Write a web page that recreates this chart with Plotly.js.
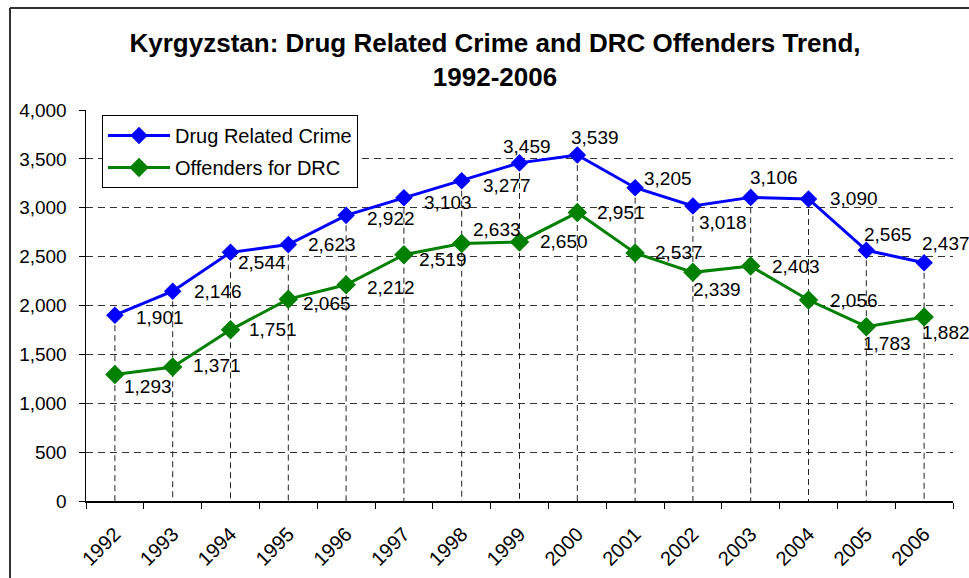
<!DOCTYPE html>
<html>
<head>
<meta charset="utf-8">
<script src="https://cdn.plot.ly/plotly-3.0.1.min.js"></script>
<style>
  html, body { margin: 0; padding: 0; background: #fff; overflow: hidden; }
  #chart { width: 969px; height: 578px; }
</style>
</head>
<body>
<div id="chart"></div>
<script>
// ---- Data ----
const years = ['1992','1993','1994','1995','1996','1997','1998','1999','2000','2001','2002','2003','2004','2005','2006'];
const drugRelatedCrime = [1901, 2146, 2544, 2623, 2922, 3103, 3277, 3459, 3539, 3205, 3018, 3106, 3090, 2565, 2437];
const offendersForDRC = [1293, 1371, 1751, 2065, 2212, 2519, 2633, 2650, 2951, 2537, 2339, 2403, 2056, 1783, 1882];
const yTickValues = [0, 500, 1000, 1500, 2000, 2500, 3000, 3500, 4000];

// ---- Label placement (pixel offsets, style only) ----
const crimeLabelShift = [[45,2],[45,0],[31,10],[44,0],[45,3],[44,5],[45,5],[7,-16],[18,-18],[33,-9],[30,17],[23,-20],[45,0],[22,-16],[22,-19]];
const offenderLabelShift = [[33,12],[44,-1],[42,0],[39,4],[45,3],[39,5],[35,-14],[44,0],[44,0],[44,-1],[24,17],[45,0],[45,0],[21,17],[22,15]];

const FONT = 'Liberation Sans, Arial, sans-serif';

// Drop lines from the higher point of each category down to the axis
const dropX = [], dropY = [];
years.forEach((yr, i) => {
  dropX.push(yr, yr, null);
  dropY.push(Math.max(drugRelatedCrime[i], offendersForDRC[i]), 0, null);
});

const traces = [
  {
    x: dropX, y: dropY, type: 'scatter', mode: 'lines',
    line: {color: '#222', width: 1, dash: '6px,4px'},
    hoverinfo: 'skip', showlegend: false
  },
  {
    x: years, y: drugRelatedCrime, type: 'scatter', mode: 'lines+markers',
    name: 'Drug Related Crime', legendgroup: 'a',
    line: {color: '#0000FF', width: 3},
    marker: {symbol: 'diamond', size: 13.5, color: '#0000FF'},
    cliponaxis: false
  },
  {
    x: years, y: offendersForDRC, type: 'scatter', mode: 'lines+markers',
    name: 'Offenders for DRC', legendgroup: 'b',
    line: {color: '#008000', width: 3},
    marker: {symbol: 'diamond', size: 15, color: '#008000'},
    cliponaxis: false
  }
];

const annotations = [];
const fmt = v => String(v).replace(/\B(?=(\d{3})+(?!\d))/g, ',');
years.forEach((yr, i) => {
  annotations.push({
    x: i, y: drugRelatedCrime[i], xref: 'x', yref: 'y', text: fmt(drugRelatedCrime[i]),
    showarrow: false, xshift: crimeLabelShift[i][0], yshift: -crimeLabelShift[i][1],
    xanchor: 'center', yanchor: 'middle',
    font: {family: FONT, size: 19, color: '#000'}
  });
  annotations.push({
    x: i, y: offendersForDRC[i], xref: 'x', yref: 'y', text: fmt(offendersForDRC[i]),
    showarrow: false, xshift: offenderLabelShift[i][0], yshift: -offenderLabelShift[i][1],
    xanchor: 'center', yanchor: 'middle',
    font: {family: FONT, size: 19, color: '#000'}
  });
});

// plot area geometry in px
const W = 969, H = 578, L = 86, R = 16, T = 110, B = 77;
const pw = W - L - R, ph = H - T - B;
const px2x = p => (p - L) / pw;
const px2y = p => (H - B - p) / ph;

const layout = {
  width: W, height: H,
  margin: {l: L, r: R, t: T, b: B, pad: 0},
  paper_bgcolor: '#fff', plot_bgcolor: '#fff',
  font: {family: FONT, size: 18, color: '#000'},
  title: {
    text: '<b>Kyrgyzstan: Drug Related Crime and DRC Offenders Trend,<br>1992-2006</b>',
    font: {family: FONT, size: 26, color: '#000'},
    x: 495 / W, xref: 'container', xanchor: 'center',
    y: 1 - 52 / H, yref: 'container', yanchor: 'middle'
  },
  xaxis: {
    type: 'category', categoryorder: 'array', categoryarray: years,
    range: [-0.5, years.length - 0.5],
    showgrid: false, zeroline: false,
    showline: true, linecolor: '#000', linewidth: 1.5,
    ticks: 'outside', tickson: 'boundaries', ticklen: 6, tickcolor: '#000', tickwidth: 1,
    tickangle: -45, tickfont: {family: FONT, size: 20, color: '#000'},
    ticklabelstandoff: 12
  },
  yaxis: {
    range: [0, 4000], tickvals: yTickValues, tickformat: ',d',
    showgrid: true, gridcolor: '#333', gridwidth: 1, griddash: '7px,5px',
    zeroline: false, showline: true, linecolor: '#000', linewidth: 1.5,
    ticks: 'outside', ticklen: 6, tickcolor: '#000',
    tickfont: {family: FONT, size: 19, color: '#000'},
    ticklabelstandoff: 8, fixedrange: true
  },
  legend: {
    x: px2x(102), y: px2y(115), xanchor: 'left', yanchor: 'top',
    bgcolor: '#fff', bordercolor: '#000', borderwidth: 1,
    font: {family: FONT, size: 20, color: '#000'},
    traceorder: 'grouped', tracegroupgap: 3,
    itemwidth: 62
  },
  showlegend: true,
  annotations: annotations,
  shapes: [
    {type: 'line', xref: 'paper', yref: 'paper', x0: px2x(10), x1: px2x(W + 20), y0: px2y(8), y1: px2y(8),
     line: {color: '#333', width: 2}},
    {type: 'line', xref: 'paper', yref: 'paper', x0: px2x(10), x1: px2x(10), y0: px2y(8), y1: px2y(H + 20),
     line: {color: '#333', width: 2}}
  ]
};

Plotly.newPlot('chart', traces, layout, {displayModeBar: false, staticPlot: true});
</script>
</body>
</html>
